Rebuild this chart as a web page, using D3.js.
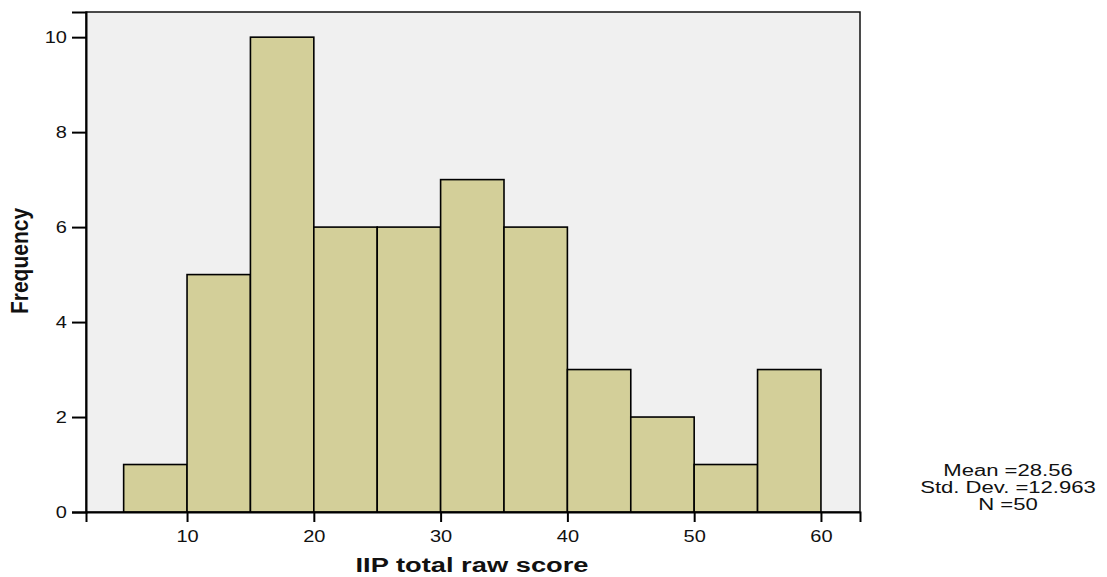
<!DOCTYPE html>
<html><head><meta charset="utf-8">
<script src="https://cdn.jsdelivr.net/npm/d3@7"></script>
<style>body{margin:0;background:#fff;} svg{display:block;font-family:"Liberation Sans",Arial,sans-serif;}</style>
</head><body>
<svg id="c" width="1107" height="577"></svg>
<script>
const binStarts = [5,10,15,20,25,30,35,40,45,50,55];
const binWidth = 5;
const counts = [1,5,10,6,6,7,6,3,2,1,3];
const xTicks = [10,20,30,40,50,60];
const yTicks = [0,2,4,6,8,10];
const statsLines = ["Mean =28.56","Std. Dev. =12.963","N =50"];
const xTitle = "IIP total raw score";
const yTitle = "Frequency";

const svg = d3.select("#c");
const L=86,R=860,T=12,B=512;
const x = d3.scaleLinear().domain([2.03,63.08]).range([L,R]);
const y = d3.scaleLinear().domain([0,10.53]).range([B,T]);

svg.append("rect").attr("x",L).attr("y",T).attr("width",R-L).attr("height",B-T)
  .attr("fill","#f0f0f0").attr("stroke","#111").attr("stroke-width",1.5);

svg.append("g").selectAll("rect").data(binStarts).join("rect")
  .attr("x",d=>x(d)).attr("width",d=>x(d+binWidth)-x(d))
  .attr("y",(d,i)=>y(counts[i])).attr("height",(d,i)=>y(0)-y(counts[i]))
  .attr("fill","#d3cf99").attr("stroke","#000").attr("stroke-width",1.6);

// axes
const gx = svg.append("g").attr("transform",`translate(0,${B})`)
  .call(d3.axisBottom(x).tickValues(xTicks).tickSize(10).tickFormat(d3.format("d")));
gx.select(".domain").attr("stroke","#000").attr("stroke-width",2);
gx.selectAll(".tick line").attr("stroke","#000").attr("stroke-width",2);
gx.selectAll(".tick text").attr("font-size",16).attr("fill","#111")
  .attr("y",0).attr("dy",0)
  .attr("transform","translate(0,30) scale(1.25,1)").attr("font-family","Liberation Sans, Arial, sans-serif");

const gy = svg.append("g").attr("transform",`translate(${L},0)`)
  .call(d3.axisLeft(y).tickValues(yTicks).tickSize(14).tickFormat(d3.format("d")));
gy.select(".domain").attr("stroke","#000").attr("stroke-width",2);
gy.selectAll(".tick line").attr("stroke","#000").attr("stroke-width",2);
gy.selectAll(".tick text").attr("font-size",16).attr("fill","#111")
  .attr("x",0).attr("dy","0.35em")
  .attr("transform","translate(-19,0) scale(1.25,1)").attr("font-family","Liberation Sans, Arial, sans-serif");

// titles
svg.append("text").attr("transform",`translate(${(L+R)/2-1},572) scale(1.3,1)`)
  .attr("text-anchor","middle").attr("font-weight","bold").attr("font-size",21).attr("fill","#111")
  .text(xTitle);
svg.append("text").attr("transform","translate(28,261) rotate(-90) scale(1.05,1.2)")
  .attr("text-anchor","middle").attr("font-weight","bold").attr("font-size",20).attr("fill","#111")
  .text(yTitle);

// stats
svg.append("g").selectAll("text").data(statsLines).join("text")
  .attr("transform",(d,i)=>`translate(1008,${476+i*17}) scale(1.38,1)`)
  .attr("text-anchor","middle").attr("font-size",16).attr("fill","#111")
  .text(d=>d);
</script>
</body></html>
